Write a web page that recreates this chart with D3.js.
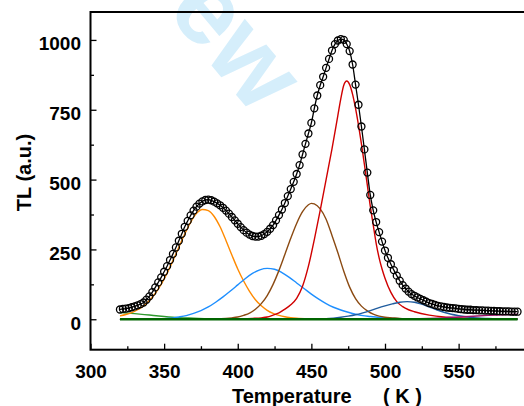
<!DOCTYPE html>
<html>
<head>
<meta charset="utf-8">
<script src="https://cdn.jsdelivr.net/npm/d3@7"></script>
<style>
  body { margin: 0; background: #fff; }
  svg { display: block; }
  text { font-family: 'Liberation Sans', Arial, sans-serif; font-weight: bold; }
</style>
</head>
<body>
<div id="chart"></div>
<script>
const W = 524
const H = 406

// measured glow curve, 2 K steps
const tempK = [320, 322, 324, 326, 328, 330, 332, 334, 336, 338, 340, 342, 344, 346, 348, 350, 352, 354, 356, 358,
  360, 362, 364, 366, 368, 370, 372, 374, 376, 378, 380, 382, 384, 386, 388, 390, 392, 394, 396, 398,
  400, 402, 404, 406, 408, 410, 412, 414, 416, 418, 420, 422, 424, 426, 428, 430, 432, 434, 436, 438,
  440, 442, 444, 446, 448, 450, 452, 454, 456, 458, 460, 462, 464, 466, 468, 470, 472, 474, 476, 478,
  480, 482, 484, 486, 488, 490, 492, 494, 496, 498, 500, 502, 504, 506, 508, 510, 512, 514, 516, 518,
  520, 522, 524, 526, 528, 530, 532, 534, 536, 538, 540, 542, 544, 546, 548, 550, 552, 554, 556, 558,
  560, 562, 564, 566, 568, 570, 572, 574, 576, 578, 580, 582, 584, 586, 588, 590]
const tlMeasured = [35, 37, 38, 40, 43, 46, 50, 54, 60, 70, 82, 97, 114, 132, 150, 170, 190, 212, 234, 257,
  281, 306, 331, 352, 372, 389, 403, 414, 422, 427, 428, 426, 421, 415, 408, 399, 389, 378, 366, 354,
  342, 330, 319, 310, 303, 298, 296, 296, 299, 305, 313, 324, 337, 354, 373, 393, 416, 441, 466, 492,
  520, 552, 590, 628, 665, 703, 755, 801, 838, 868, 900, 932, 962, 985, 998, 1003, 1000, 985, 960, 912,
  840, 768, 690, 608, 525, 445, 390, 348, 312, 278, 246, 220, 197, 176, 156, 138, 122, 110, 99, 90,
  84, 78, 73, 68, 63, 58, 55, 51, 48, 46, 44, 42, 41, 40, 39, 37, 36, 35, 34, 34,
  33, 33, 32, 32, 31, 31, 30, 30, 29, 29, 28, 28, 28, 27, 27, 27]

// deconvoluted components [T, TL]
const peakGreen = [[320, 24], [330, 20], [340, 15], [350, 10], [360, 6], [370, 4], [380, 2], [400, 1], [420, 0], [590, 0]]
const peakOrange = [[320, 12], [324, 17], [328, 24], [332, 34], [336, 48], [340, 67], [344, 93], [348, 125], [352, 165],
  [356, 210], [360, 258], [364, 305], [368, 347], [372, 379], [376, 393], [380, 389], [384, 368], [388, 331],
  [392, 282], [396, 230], [400, 180], [404, 137], [408, 100], [412, 70], [416, 48], [420, 32], [424, 21],
  [428, 14], [432, 9], [436, 6], [440, 4], [448, 2], [460, 1], [480, 0], [590, 0]]
const peakSky = [[320, 0], [340, 1], [350, 2], [355, 4], [360, 8], [365, 13], [370, 21], [375, 31], [380, 44],
  [385, 61], [390, 80], [395, 101], [400, 123], [405, 145], [410, 164], [415, 177], [420, 182], [425, 179],
  [430, 167], [435, 150], [440, 130], [445, 110], [450, 90], [455, 72], [460, 56], [465, 43], [470, 33],
  [475, 25], [480, 18], [485, 13], [490, 10], [495, 7], [500, 5], [510, 2], [520, 1], [540, 0], [590, 0]]
const peakBrown = [[320, 0], [370, 0], [380, 1], [388, 2], [392, 3], [396, 5], [400, 8], [404, 14], [408, 22],
  [412, 36], [416, 56], [420, 85], [424, 125], [428, 175], [432, 232], [436, 290], [440, 343], [444, 385],
  [448, 410], [450, 415], [452, 413], [456, 395], [460, 358], [464, 300], [468, 238], [472, 172], [476, 115],
  [480, 74], [484, 47], [488, 30], [492, 18], [496, 11], [500, 7], [505, 5], [510, 3], [520, 1], [530, 0], [590, 0]]
const peakRed = [[320, 0], [400, 1], [410, 3], [416, 5], [420, 8], [424, 15], [428, 23], [432, 36], [436, 52],
  [440, 75], [444, 118], [448, 190], [452, 285], [456, 390], [460, 500], [464, 610], [468, 730], [470, 790],
  [472, 838], [474, 853], [476, 840], [478, 805], [480, 755], [482, 695], [484, 628], [486, 555], [488, 480],
  [490, 405], [492, 338], [494, 272], [496, 220], [498, 180], [500, 147], [504, 96], [508, 63], [512, 45],
  [516, 34], [520, 27], [530, 15], [540, 8], [550, 5], [560, 3], [570, 2], [590, 1]]
const peakNavy = [[320, 0], [440, 0], [450, 1], [460, 2], [465, 4], [470, 7], [475, 11], [480, 16], [485, 23],
  [490, 31], [495, 40], [500, 48], [505, 55], [510, 61], [515, 63], [520, 61], [525, 54], [530, 44],
  [535, 34], [540, 25], [545, 18], [550, 13], [555, 9], [560, 6], [565, 4], [570, 3], [580, 1], [590, 1]]
const peakPurple = [[320, 0], [480, 0], [500, 1], [510, 1], [520, 2], [530, 3], [540, 5], [550, 8], [560, 11],
  [570, 14], [580, 16], [590, 18]]
const baseline = [[320, 0], [590, 0]]

const xTicks = [300, 350, 400, 450, 500, 550]
const xMinor = [325, 375, 425, 475, 525, 575]
const yTicks = [0, 250, 500, 750, 1000]
const yMinor = [125, 375, 625, 875]

const x = d3.scaleLinear().domain([300, 594.4]).range([90.5, 524])
const y = d3.scaleLinear().domain([-109, 1100]).range([349.7, 12])

const svg = d3.select('#chart').append('svg')
  .attr('width', W)
  .attr('height', H)

// watermark, cut by the top edge as in the source
svg.append('text')
  .attr('transform', 'translate(165,10) rotate(50)')
  .style('font-size', '105px')
  .attr('fill', '#d5eefb')
  .text('ew')

const line = d3.line()
  .x(d => x(d[0]))
  .y(d => y(d[1]))
  .curve(d3.curveMonotoneX)

const comps = [
  [peakGreen, '#2f9a2f'],
  [peakOrange, '#ff8a00'],
  [peakSky, '#1e8fff'],
  [peakBrown, '#8b4a12'],
  [peakRed, '#d00000'],
  [peakNavy, '#1f5c9e'],
  [peakPurple, '#9a1066']
]

comps.forEach(([d, c]) => {
  svg.append('path')
    .datum(d)
    .attr('fill', 'none')
    .attr('stroke', c)
    .attr('stroke-width', 1.4)
    .attr('d', line)
})

svg.append('path')
  .datum(baseline)
  .attr('fill', 'none')
  .attr('stroke', '#006400')
  .attr('stroke-width', 2.4)
  .attr('d', line)

const measured = tempK.map((t, i) => [t, tlMeasured[i]])

svg.append('path')
  .datum(measured)
  .attr('fill', 'none')
  .attr('stroke', '#000')
  .attr('stroke-width', 1.3)
  .attr('d', line)

svg.append('g').selectAll('circle')
  .data(measured)
  .join('circle')
  .attr('cx', d => x(d[0]))
  .attr('cy', d => y(d[1]))
  .attr('r', 3.5)
  .attr('fill', 'none')
  .attr('stroke', '#000')
  .attr('stroke-width', 1.3)

// frame
svg.append('rect')
  .attr('x', x(300))
  .attr('y', y(1100))
  .attr('width', 460)
  .attr('height', y(-109) - y(1100))
  .attr('fill', 'none')
  .attr('stroke', '#000')
  .attr('stroke-width', 2)

const fmt = d3.format('d')
const xAxis = d3.axisBottom(x).tickValues(xTicks).tickFormat(fmt).tickSize(-6).tickSizeOuter(0).tickPadding(15.3)
const xAxisMinor = d3.axisBottom(x).tickValues(xMinor).tickSize(-3.5).tickSizeOuter(0).tickFormat('')
const yAxis = d3.axisLeft(y).tickValues(yTicks).tickFormat(fmt).tickSize(-6).tickSizeOuter(0).tickPadding(9.5)
const yAxisMinor = d3.axisLeft(y).tickValues(yMinor).tickSize(-3.5).tickSizeOuter(0).tickFormat('')

function styleAxis (g) {
  g.select('.domain').remove()
  g.selectAll('line').attr('stroke', '#000').attr('stroke-width', 1.3)
  g.selectAll('text').attr('fill', '#000').style('font-size', '19px')
}

svg.append('g').attr('transform', `translate(0,${y(-109)})`).call(xAxis).call(styleAxis)
svg.append('g').attr('transform', `translate(0,${y(-109)})`).call(xAxisMinor).call(styleAxis)
svg.append('g').attr('transform', `translate(${x(300)},0)`).call(yAxis).call(styleAxis)
  .selectAll('text').attr('dy', '0.52em')
svg.append('g').attr('transform', `translate(${x(300)},0)`).call(yAxisMinor).call(styleAxis)

svg.selectAll('.tick text').attr('font-family', null)

// axis titles
svg.append('text')
  .attr('x', 232)
  .attr('y', 403)
  .style('font-size', '20px')
  .text('Temperature')

svg.append('text')
  .attr('x', 383)
  .attr('y', 403)
  .style('font-size', '20px')
  .style('white-space', 'pre')
  .text('( K )')

svg.append('text')
  .attr('transform', 'translate(31,172.5) rotate(-90)')
  .attr('text-anchor', 'middle')
  .style('font-size', '20px')
  .text('TL (a.u.)')
</script>
</body>
</html>
